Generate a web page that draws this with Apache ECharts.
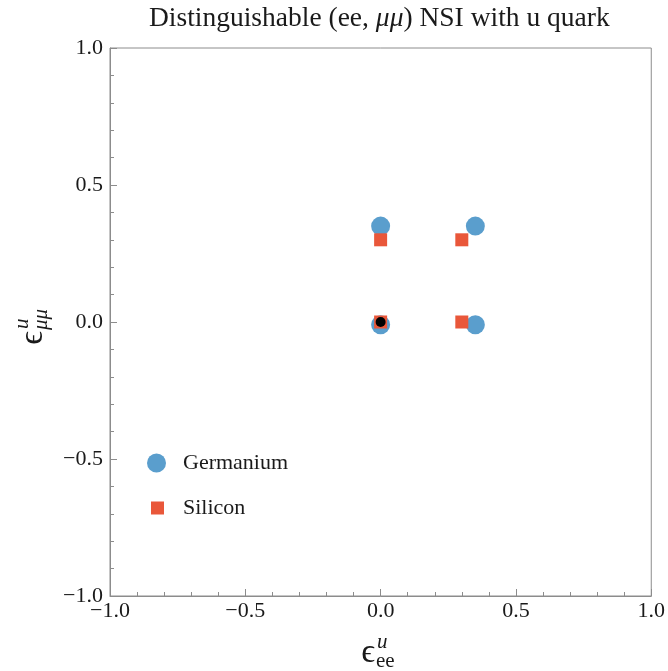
<!DOCTYPE html>
<html>
<head>
<meta charset="utf-8">
<script src="https://cdn.jsdelivr.net/npm/echarts@6/dist/echarts.min.js"></script>
<style>
  html, body { margin: 0; padding: 0; background: #ffffff; }
  #chart { width: 668px; height: 671px; }
</style>
</head>
<body>
<div id="chart"></div>
<script>
// Points in the (eps_ee, eps_mumu) plane
const germaniumPoints = [[0, 0.35], [0.35, 0.35], [0, -0.01], [0.35, -0.01]];
const siliconPoints = [[0, 0.3], [0.3, 0.3], [0, 0], [0.3, 0]];
const truePoint = [[0, 0]];
const seriesNames = ['Germanium', 'Silicon'];
const axisMin = -1.0;
const axisMax = 1.0;
const axisStep = 0.5;

const SERIF = 'Liberation Serif, Times New Roman, serif';
const FRAME = '#8c8c8c';
const INK = '#1a1a1a';
const BLUE = '#5a9ecd';
const RED = '#e9573a';

function tickLabel(v) {
  const s = Math.abs(v).toFixed(1);
  return v < 0 ? '\u2212' + s : s;
}

function axisConf(labelMargin) {
  return {
    type: 'value',
    min: axisMin,
    max: axisMax,
    interval: axisStep,
    axisLine: { show: true, onZero: false, lineStyle: { color: FRAME, width: 1 } },
    axisTick: { show: true, inside: true, length: 7, lineStyle: { color: FRAME } },
    minorTick: { show: true, splitNumber: 5, length: 4, lineStyle: { color: FRAME } },
    splitLine: { show: false },
    axisLabel: {
      color: INK,
      fontFamily: SERIF,
      fontSize: 22,
      margin: labelMargin,
      formatter: tickLabel
    }
  };
}

// epsilon with stacked super/subscripts, built from separate text pieces
function epsilonName(pos, rotation, sub, subItalic) {
  return {
    type: 'group',
    x: pos[0],
    y: pos[1],
    rotation: rotation,
    children: [
      { type: 'text', style: { text: '\u03f5', x: -1, y: 0, align: 'right', verticalAlign: 'middle',
        font: '34px ' + SERIF, fill: INK } },
      { type: 'text', style: { text: 'u', x: 1, y: -11, align: 'left', verticalAlign: 'middle',
        font: 'italic 21px ' + SERIF, fill: INK } },
      { type: 'text', style: { text: sub, x: 0, y: 8, align: 'left', verticalAlign: 'middle',
        font: (subItalic ? 'italic ' : '') + '21px ' + SERIF, fill: INK } }
    ]
  };
}

const chart = echarts.init(document.getElementById('chart'));
chart.setOption({
  animation: false,
  backgroundColor: '#ffffff',
  title: {
    text: 'Distinguishable (ee, {i|\u03bc\u03bc}) NSI with u quark',
    left: 149,
    top: 2,
    padding: [3, 0, 0, 0],
    textStyle: {
      fontFamily: SERIF,
      fontSize: 27.5,
      fontWeight: 'normal',
      color: INK,
      rich: {
        i: { fontFamily: SERIF, fontSize: 27.5, fontStyle: 'italic', color: INK }
      }
    }
  },
  grid: {
    left: 110,
    right: 15,
    top: 48,
    bottom: 75,
    show: true,
    borderColor: FRAME,
    borderWidth: 1,
    backgroundColor: 'transparent'
  },
  xAxis: axisConf(4),
  yAxis: axisConf(7),
  legend: [
    {
      data: [{ name: seriesNames[0], icon: 'circle' }],
      left: 147, top: 452, padding: 0,
      itemWidth: 19, itemHeight: 19,
      textStyle: { fontFamily: SERIF, fontSize: 22, color: INK, padding: [0, 0, 0, 12] }
    },
    {
      data: [{ name: seriesNames[1], icon: 'rect' }],
      left: 151, top: 497, padding: 0,
      itemWidth: 13, itemHeight: 13,
      textStyle: { fontFamily: SERIF, fontSize: 22, color: INK, padding: [0, 0, 0, 14] }
    }
  ],
  graphic: [
    epsilonName([376, 653], 0, 'ee', false),
    epsilonName([33, 330], Math.PI / 2, '\u03bc\u03bc', true)
  ],
  series: [
    {
      name: seriesNames[0],
      type: 'scatter',
      data: germaniumPoints,
      symbol: 'circle',
      symbolSize: 19,
      itemStyle: { color: BLUE, opacity: 1 },
      z: 2
    },
    {
      name: seriesNames[1],
      type: 'scatter',
      data: siliconPoints,
      symbol: 'rect',
      symbolSize: 13,
      itemStyle: { color: RED, opacity: 1 },
      z: 3
    },
    {
      name: 'reference',
      type: 'scatter',
      data: truePoint,
      symbol: 'circle',
      symbolSize: 10,
      itemStyle: { color: '#000000', opacity: 1 },
      z: 4
    }
  ]
});
</script>
</body>
</html>
